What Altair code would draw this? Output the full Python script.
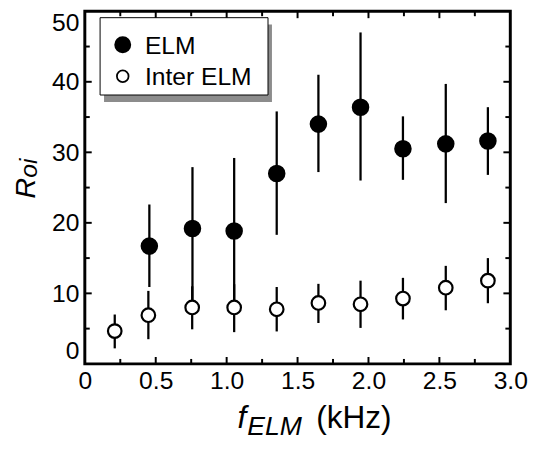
import altair as alt
import pandas as pd

# ---- data ----
f_elm = [0.455, 0.759, 1.053, 1.353, 1.647, 1.944, 2.243, 2.545, 2.842]
elm_mean = [16.7, 19.2, 18.85, 27.0, 34.0, 36.4, 30.5, 31.2, 31.6]
elm_hi = [22.6, 27.9, 29.2, 35.8, 41.0, 47.0, 35.1, 39.7, 36.4]
elm_lo = [10.9, 8.5, 8.5, 18.3, 27.2, 26.0, 26.1, 22.8, 26.8]

f_inter = [0.211, 0.448, 0.757, 1.053, 1.353, 1.647, 1.944, 2.243, 2.545, 2.842]
inter_mean = [4.65, 6.9, 8.0, 8.0, 7.74, 8.64, 8.45, 9.26, 10.8, 11.8]
inter_hi = [7.0, 10.35, 11.0, 11.3, 10.9, 11.35, 11.8, 12.2, 13.9, 15.0]
inter_lo = [2.2, 3.5, 4.9, 4.5, 4.6, 5.8, 5.1, 6.3, 7.6, 8.6]

x_labels = [0, 0.5, 1.0, 1.5, 2.0, 2.5, 3.0]
x_minor = [0.25, 0.75, 1.25, 1.75, 2.25, 2.75]
y_labels = [0, 10, 20, 30, 40, 50]
y_major_ticks = [10, 20, 30, 40]
y_minor = [5, 15, 25, 35, 45]
x_major_ticks = [0.5, 1.0, 1.5, 2.0, 2.5]

legend_labels = ["ELM", "Inter ELM"]
x_title = ["f", "ELM", "(kHz)"]
y_title = ["R", "oi"]

FONT = "Liberation Sans"
W, H = 432, 358

elm = pd.DataFrame({"f": f_elm, "m": elm_mean, "lo": elm_lo, "hi": elm_hi})
inter = pd.DataFrame({"f": f_inter, "m": inter_mean, "lo": inter_lo, "hi": inter_hi})
one = pd.DataFrame({"a": [0]})

xscale = alt.Scale(domain=[0, 3], nice=False, zero=False)
yscale = alt.Scale(domain=[0, 50], nice=False, zero=False)
xaxis = alt.Axis(values=x_labels,
                 labelExpr="datum.value == 0 ? '0' : format(datum.value, '.1f')",
                 domain=False, ticks=False, grid=False, labelFont=FONT,
                 labelFontSize=25, labelColor="black", labelPadding=5,
                 title=None, labelFlush=False, labelOverlap=False)
yaxis = alt.Axis(values=y_labels, format="d", domain=False, ticks=False,
                 grid=False, labelFont=FONT, labelFontSize=25,
                 labelColor="black", labelPadding=6, title=None,
                 labelFlush=True, labelOverlap=False)

X = lambda: alt.X("f:Q", scale=xscale, axis=xaxis)
Y = lambda f="m": alt.Y(f"{f}:Q", scale=yscale, axis=yaxis)

elm_bars = alt.Chart(elm).mark_rule(color="black", strokeWidth=2.3).encode(
    x=X(), y=Y("lo"), y2="hi:Q")
inter_bars = alt.Chart(inter).mark_rule(color="black", strokeWidth=2.3).encode(
    x=X(), y=Y("lo"), y2="hi:Q")
elm_pts = alt.Chart(elm).mark_point(shape="circle", filled=True, fill="black",
                                     stroke="black", size=250, opacity=1).encode(
    x=X(), y=Y())
inter_pts = alt.Chart(inter).mark_point(shape="circle", filled=True, fill="white",
                                         stroke="black", strokeWidth=2.2, size=190,
                                         opacity=1).encode(x=X(), y=Y())

# inward ticks on all four sides
def xticks(vals, length):
    d = pd.DataFrame({"f": vals})
    b = alt.Chart(d).mark_rule(color="black", strokeWidth=2).encode(
        x=X(), y=alt.value(H), y2=alt.value(H - length))
    t = alt.Chart(d).mark_rule(color="black", strokeWidth=2).encode(
        x=X(), y=alt.value(0), y2=alt.value(length))
    return [b, t]

def yticks(vals, length):
    d = pd.DataFrame({"m": vals})
    l = alt.Chart(d).mark_rule(color="black", strokeWidth=2).encode(
        y=Y(), x=alt.value(0), x2=alt.value(length))
    r = alt.Chart(d).mark_rule(color="black", strokeWidth=2).encode(
        y=Y(), x=alt.value(W), x2=alt.value(W - length))
    return [l, r]

ticks = xticks(x_major_ticks, 7) + xticks(x_minor, 5) + yticks(y_major_ticks, 7) + yticks(y_minor, 5)

# legend
shadow = alt.Chart(one).mark_rect(fill="#8c8c8c").encode(
    x=alt.value(19.5), x2=alt.value(190), y=alt.value(13.5), y2=alt.value(92))
box = alt.Chart(one).mark_rect(fill="white", stroke="black", strokeWidth=1).encode(
    x=alt.value(15.5), x2=alt.value(186), y=alt.value(6.5), y2=alt.value(85))
leg_p1 = alt.Chart(one).mark_point(shape="circle", filled=True, fill="black",
                                    stroke="black", size=230, opacity=1).encode(
    x=alt.value(38.5), y=alt.value(34))
leg_p2 = alt.Chart(one).mark_point(shape="circle", filled=True, fill="white",
                                    stroke="black", strokeWidth=1.8, size=140,
                                    opacity=1).encode(x=alt.value(38.5), y=alt.value(66))
leg_t1 = alt.Chart(one).mark_text(font=FONT, fontSize=25, align="left",
                                   baseline="middle", color="black").encode(
    x=alt.value(61), y=alt.value(35), text=alt.value(legend_labels[0]))
leg_t2 = alt.Chart(one).mark_text(font=FONT, fontSize=25, align="left",
                                   baseline="middle", color="black").encode(
    x=alt.value(61), y=alt.value(67), text=alt.value(legend_labels[1]))

# axis titles with subscripts
xt1 = alt.Chart(one).mark_text(font=FONT, fontSize=32, fontStyle="italic",
                                align="left", baseline="alphabetic", color="black").encode(
    x=alt.value(155), y=alt.value(423), text=alt.value(x_title[0]))
xt2 = alt.Chart(one).mark_text(font=FONT, fontSize=27, fontStyle="italic",
                                align="left", baseline="alphabetic", color="black").encode(
    x=alt.value(165), y=alt.value(430), text=alt.value(x_title[1]))
xt3 = alt.Chart(one).mark_text(font=FONT, fontSize=32, align="left",
                                baseline="alphabetic", color="black").encode(
    x=alt.value(235), y=alt.value(423), text=alt.value(x_title[2]))
yt1 = alt.Chart(one).mark_text(font=FONT, fontSize=29, fontStyle="italic", angle=270,
                                align="left", baseline="alphabetic", color="black").encode(
    x=alt.value(-51), y=alt.value(190), text=alt.value(y_title[0]))
yt2 = alt.Chart(one).mark_text(font=FONT, fontSize=25, fontStyle="italic", angle=270,
                                align="left", baseline="alphabetic", color="black").encode(
    x=alt.value(-49), y=alt.value(169), text=alt.value(y_title[1]))

chart = alt.layer(
    elm_bars, inter_bars, elm_pts, inter_pts, *ticks,
    shadow, box, leg_p1, leg_p2, leg_t1, leg_t2,
    xt1, xt2, xt3, yt1, yt2,
).properties(
    width=W, height=H,
    padding={"left": 78, "top": 0, "right": 20, "bottom": 77},
    autosize="none",
    background="white",
).configure_view(stroke="black", strokeWidth=3)

chart.save("out.html", embed_options={"renderer": "svg", "actions": False})
